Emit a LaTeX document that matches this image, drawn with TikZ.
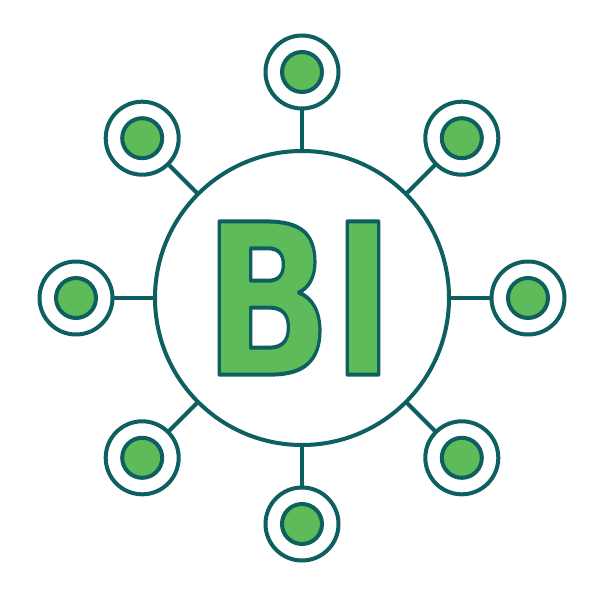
\documentclass[tikz,border=0pt]{standalone}
\usepackage{fontspec}
\newfontfamily\bifont{DejaVu Sans}
\usetikzlibrary{calc}
\definecolor{teal}{HTML}{0E5F5F}
\definecolor{leaf}{HTML}{5DBB5A}
\begin{document}
\begin{tikzpicture}[x=1pt,y=-1pt,
  hub/.style={circle,draw=teal,line width=4pt,fill=white,minimum size=294pt,inner sep=0pt,outer sep=0pt},
  ring/.style={circle,draw=teal,line width=4pt,fill=white,minimum size=73pt,inner sep=0pt,outer sep=0pt},
  dot/.style={circle,draw=teal,line width=4pt,fill=leaf,minimum size=40pt,inner sep=0pt,outer sep=0pt},
  link/.style={draw=teal,line width=4pt}]
\useasboundingbox (0,0) rectangle (600,600);
\node[hub] (c) at (302,298) {};
\foreach \n/\a in {t/90,tr/45,r/0,br/-45,b/-90,bl/-135,l/180,tl/135}{
  \node[ring] (s\n) at ($(302,298)+(\a:226 and -226)$) {};
  \node[dot] (d\n) at (s\n) {};
  \draw[link] (c) -- (s\n);
}
\node[inner sep=0pt,text=leaf,xscale=0.8] (bi) at (299,298)
  {\fontsize{210}{210}\bifont\bfseries\special{pdf:literal direct 2 Tr 4 w 1 j 0.055 0.373 0.373 RG}BI\special{pdf:literal direct 0 Tr}};
\end{tikzpicture}
\end{document}
